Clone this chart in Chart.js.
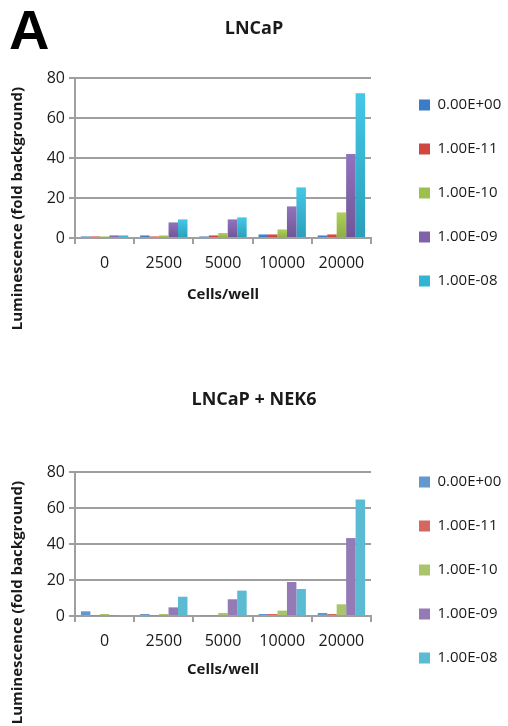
<!DOCTYPE html>
<html>
<head>
<meta charset="utf-8">
<script src="https://cdn.jsdelivr.net/npm/chart.js@4/dist/chart.umd.min.js"></script>
<style>
  html, body { margin: 0; padding: 0; background: #ffffff; overflow: hidden; width: 508px; height: 726px; }
  .panel { position: absolute; left: 0; }
  #panelLetter {
    position: absolute; left: 9px; top: 2px;
    font-family: "Liberation Sans", Arial, sans-serif; font-weight: bold;
    font-size: 56px; line-height: 56px; color: #000;
  }
</style>
</head>
<body>
<div id="panelLetter">A</div>
<canvas id="chartTop" class="panel" width="508" height="400" style="top:0px"></canvas>
<canvas id="chartBottom" class="panel" width="508" height="420" style="top:368px"></canvas>
<script>
// Cell densities on the x axis
const cellsPerWell = ['0', '2500', '5000', '10000', '20000'];
// Compound concentrations (legend entries)
const concentrations = ['0.00E+00', '1.00E-11', '1.00E-10', '1.00E-09', '1.00E-08'];
const yTicks = [0, 20, 40, 60, 80];

// LNCaP: luminescence (fold background) per concentration
const lncapConc0 = [0.8, 1.3, 0.8, 1.8, 1.3];
const lncapConc1 = [0.8, 0.8, 1.3, 1.8, 1.8];
const lncapConc2 = [0.8, 1.3, 2.5, 4.3, 12.8];
const lncapConc3 = [1.3, 7.8, 9.3, 15.8, 42.0];
const lncapConc4 = [1.3, 9.3, 10.3, 25.3, 72.4];

// LNCaP + NEK6
const nek6Conc0 = [2.6, 1.1, 0.3, 1.1, 1.7];
const nek6Conc1 = [0.3, 0.3, 0.3, 1.1, 1.1];
const nek6Conc2 = [1.1, 1.1, 1.7, 3.0, 6.5];
const nek6Conc3 = [0.3, 4.8, 9.3, 18.9, 43.3];
const nek6Conc4 = [0.3, 10.7, 14.1, 15.0, 64.7];

// Shaded bar colours (light top -> dark bottom) for the first panel
const shadeTop    = ['#4b8fd8', '#e0534a', '#aed15a', '#9273bd', '#44c8e6'];
const shadeBottom = ['#2f6cb2', '#bf3a33', '#8cae43', '#6f5597', '#2a9fba'];
const shadeLegend = ['#3a7cc6', '#d1473f', '#9dc04d', '#7f62a8', '#33b4d3'];
// Flat colours for the second panel
const flatColors  = ['#6397d0', '#d4675f', '#a9c46b', '#947bb6', '#5bbbd3'];

Chart.defaults.font.family = '"Open Sans", sans-serif';
Chart.defaults.color = '#1a1a1a';

const gridGray = '#9f9f9f';
const textDark = '#1a1a1a';

function shadedFill(i) {
  return function (ctx) {
    const chart = ctx.chart;
    const area = chart.chartArea;
    if (!area || ctx.type !== 'data') return shadeLegend[i];
    const y = chart.scales.y;
    const top = y.getPixelForValue(ctx.raw);
    const base = y.getPixelForValue(0);
    if (!(base - top > 0.5)) return shadeBottom[i];
    const g = chart.ctx.createLinearGradient(0, top, 0, base);
    g.addColorStop(0, shadeTop[i]);
    g.addColorStop(1, shadeBottom[i]);
    return g;
  };
}

// Rotated y-axis caption, anchored just below the top of the plot area
const yCaption = {
  id: 'yCaption',
  afterDraw(chart, args, opts) {
    const c = chart.ctx;
    c.save();
    c.font = 'bold 15px "Open Sans", sans-serif';
    c.fillStyle = textDark;
    c.translate(opts.x, chart.chartArea.top + opts.offset);
    c.rotate(-Math.PI / 2);
    c.textAlign = 'right';
    c.textBaseline = 'middle';
    c.fillText(opts.text, 0, 0);
    c.restore();
  }
};

function buildChart(canvasId, title, series, fills, legendFills, lay) {
  const datasets = series.map((vals, i) => ({
    label: concentrations[i],
    data: vals,
    backgroundColor: fills[i],
    borderWidth: 0,
    categoryPercentage: 0.8,
    barPercentage: 1.0
  }));
  return new Chart(document.getElementById(canvasId), {
    type: 'bar',
    data: { labels: cellsPerWell, datasets },
    plugins: [yCaption],
    options: {
      responsive: false,
      animation: false,
      devicePixelRatio: 1,
      layout: { padding: { left: lay.padLeft, right: lay.padRight, top: 0, bottom: lay.padBottom } },
      plugins: {
        title: {
          display: true, text: title, color: textDark,
          font: { size: 18, weight: 'bold' },
          padding: { top: lay.titleTop, bottom: 0 }
        },
        legend: {
          display: true, position: 'right', align: 'center',
          maxWidth: lay.legendWidth,
          labels: {
            boxWidth: 11, boxHeight: 11, padding: 29, color: textDark,
            font: { size: 15 },
            generateLabels(chart) {
              const items = Chart.defaults.plugins.legend.labels.generateLabels(chart);
              items.forEach((it, i) => { it.fillStyle = legendFills[i]; it.strokeStyle = legendFills[i]; it.lineWidth = 0; });
              return items;
            }
          }
        },
        tooltip: { enabled: false },
        yCaption: { text: 'Luminescence (fold background)', x: 18, offset: 9 }
      },
      scales: {
        x: {
          grid: { display: true, drawOnChartArea: false, drawTicks: true, tickLength: 6, offset: true, color: gridGray, lineWidth: 2 },
          border: { display: true, color: gridGray, width: 2 },
          ticks: { color: textDark, font: { size: 16 }, padding: 10, maxRotation: 0 },
          title: { display: true, text: 'Cells/well', color: textDark, font: { size: 15, weight: 'bold' }, padding: { top: 0, bottom: lay.xTitlePad } },
          afterFit(s) { s.height = lay.xHeight; }
        },
        y: {
          min: 0, max: 80,
          afterBuildTicks(s) { s.ticks = yTicks.map(v => ({ value: v })); },
          grid: { color: gridGray, lineWidth: 2, tickLength: 6, drawTicks: true },
          border: { display: true, color: gridGray, width: 2 },
          ticks: { color: textDark, font: { size: 16 }, padding: 4 },
          afterFit(s) { s.width = 75 - lay.padLeft; }
        },
        topSpace: {
          axis: 'x', type: 'linear', position: 'top', display: true,
          grid: { display: false }, border: { display: false }, ticks: { display: false },
          afterFit(s) { s.height = lay.topSpace; }
        },
        rightSpace: {
          axis: 'y', type: 'linear', position: 'right', display: true,
          grid: { display: false }, border: { display: false }, ticks: { display: false },
          afterFit(s) { s.width = lay.rightSpace; }
        }
      }
    }
  });
}

buildChart('chartTop', 'LNCaP',
  [lncapConc0, lncapConc1, lncapConc2, lncapConc3, lncapConc4],
  [0, 1, 2, 3, 4].map(shadedFill), shadeLegend,
  { padLeft: 0, padRight: 0, padBottom: 14, titleTop: 18.2, topSpace: 38.2, xHeight: 148, xTitlePad: 82, rightSpace: 19, legendWidth: 118 });

buildChart('chartBottom', 'LNCaP + NEK6',
  [nek6Conc0, nek6Conc1, nek6Conc2, nek6Conc3, nek6Conc4],
  flatColors, flatColors,
  { padLeft: 0, padRight: 0, padBottom: 16, titleTop: 21.2, topSpace: 61.2, xHeight: 156, xTitlePad: 93, rightSpace: 19, legendWidth: 118 });
</script>
</body>
</html>
